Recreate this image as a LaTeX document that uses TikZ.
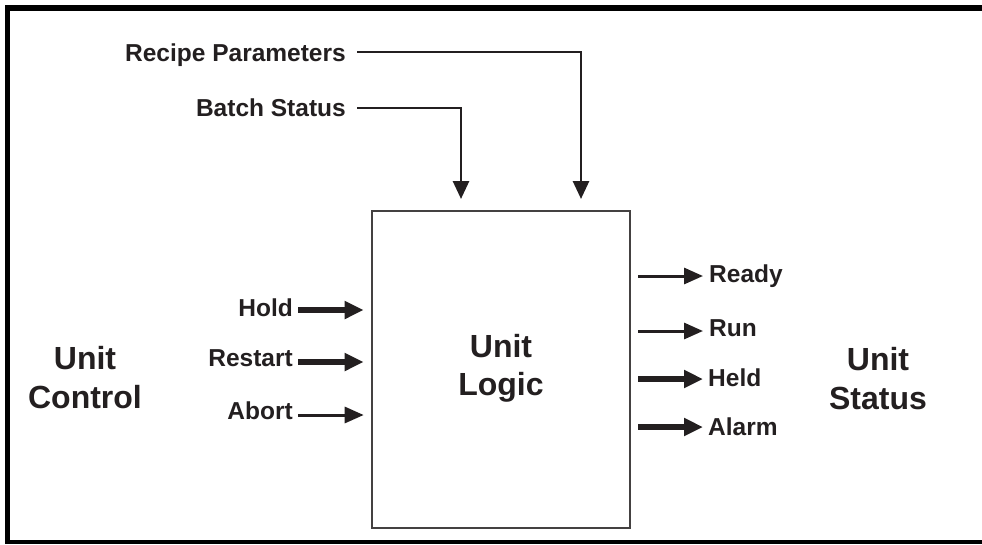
\documentclass[tikz,border=0pt]{standalone}
\usepackage{fontspec}
\setmainfont{Liberation Sans}
\usetikzlibrary{arrows.meta}
\definecolor{ink}{RGB}{35,31,32}
\begin{document}
\begin{tikzpicture}[x=1pt,y=-1pt,
  lbl/.style={inner sep=0pt,text=ink,font=\bfseries\fontsize{24.5}{28}\selectfont},
  big/.style={inner sep=0pt,text=ink,align=center,font=\bfseries\fontsize{32}{38.5}\selectfont},
  frameline/.style={draw=black},
  thinarr/.style={draw=ink,line width=3pt,-{Triangle[length=19pt,width=16pt]}},
  thickarr/.style={draw=ink,line width=5.2pt,-{Triangle[length=19pt,width=17pt]}},
  feed/.style={draw=ink,line width=2.8pt,-{Triangle[length=18pt,width=16pt]}},
  logicbox/.style={draw=ink!85,line width=2.6pt,minimum width=258pt,minimum height=317pt,inner sep=0pt}]
\useasboundingbox (0,0) rectangle (982,544);
% outer frame (cropped on the right)
\draw[frameline,line width=5.7pt] (5,7.8) -- (982,7.8);
\draw[frameline,line width=5pt] (7.5,5) -- (7.5,544);
\draw[frameline,line width=4pt] (5,542) -- (982,542);
% main box
\node[logicbox] (box) at (501,369.5) {};
\node[big] (logic) at (501,368.4) {Unit\\Logic};
\node[big] (uctl) at (85,377.5) {Unit\\Control};
\node[big] (usts) at (878,378.4) {Unit\\Status};
% top inputs
\node[lbl,anchor=base east] (recipe) at (346,61.5) {Recipe Parameters};
\node[lbl,anchor=base east] (batch) at (346,116.7) {Batch Status};
\coordinate (rpS) at (357,52);
\coordinate (rpD) at (581,211);
\coordinate (bsS) at (357,108);
\coordinate (bsD) at (461,211);
\draw[feed,shorten >=12pt] (rpS) -| (rpD);
\draw[feed,shorten >=12pt] (bsS) -| (bsD);
% left inputs
\node[lbl,anchor=base east] (hold) at (293,316) {Hold};
\node[lbl,anchor=base east] (restart) at (293,366.5) {Restart};
\node[lbl,anchor=base east] (abort) at (293,419.3) {Abort};
\coordinate (holdS) at (298,310);
\coordinate (restS) at (298,362);
\coordinate (abS) at (298,415);
\draw[thickarr,shorten >=7pt] (holdS) -- (holdS -| box.west);
\draw[thickarr,shorten >=7pt] (restS) -- (restS -| box.west);
\draw[thinarr,shorten >=7pt] (abS) -- (abS -| box.west);
% right outputs
\node[lbl,anchor=base west] (ready) at (709,282.7) {Ready};
\node[lbl,anchor=base west] (run) at (709,336.7) {Run};
\node[lbl,anchor=base west] (held) at (708,386.7) {Held};
\node[lbl,anchor=base west] (alarm) at (708,435) {Alarm};
\coordinate (rdE) at (703,276);
\coordinate (rnE) at (703,331);
\coordinate (hdE) at (703,379);
\coordinate (alE) at (703,427);
\draw[thinarr,shorten <=7pt] (rdE -| box.east) -- (rdE);
\draw[thinarr,shorten <=7pt] (rnE -| box.east) -- (rnE);
\draw[thickarr,shorten <=7pt] (hdE -| box.east) -- (hdE);
\draw[thickarr,shorten <=7pt] (alE -| box.east) -- (alE);
\end{tikzpicture}
\end{document}
